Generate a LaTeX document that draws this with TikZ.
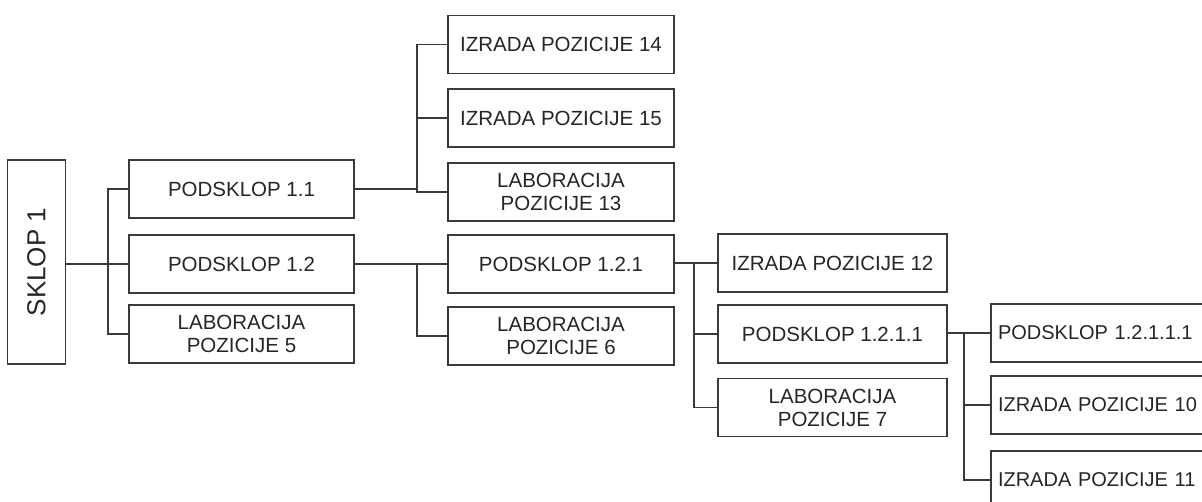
\documentclass[tikz,border=0pt]{standalone}
\usepackage{fontspec}
\setmainfont{Liberation Sans}
\definecolor{ln}{HTML}{3A3A3A}
\definecolor{tx}{HTML}{262626}
\tikzset{
  box/.style={draw=ln, line width=1.5pt, fill=white, rectangle, inner sep=0pt,
    minimum height=58pt, align=center, text=tx,
    font=\fontsize{20.5}{23}\selectfont},
  c1/.style={box, minimum width=225pt},
  c2/.style={box, minimum width=226pt},
  c3/.style={box, minimum width=229pt},
  c4/.style={box, minimum width=229pt, inner xsep=7pt, text width=215pt, align=left,
    font=\fontsize{20}{23}\selectfont},
  conn/.style={draw=ln, line width=1.5pt},
}
\begin{document}
\begin{tikzpicture}[x=1pt, y=-1pt]
\useasboundingbox (0,0) rectangle (1202,501);
\fill[white] (0,0) rectangle (1202,501);
\begin{scope}
\clip (0,0) rectangle (1202,501);
% buses
\coordinate (b1) at (108,0);
\coordinate (b2) at (417,0);
\coordinate (b3) at (417,0);
\coordinate (b4) at (694,0);
\coordinate (b5) at (964,0);
% nodes
\node[box, minimum width=204pt, minimum height=58pt, rotate=90, font=\fontsize{26}{30}\selectfont] (sklop) at (36.5,262) {SKLOP 1};
\node[c1] (p11)  at (241.5,189) {PODSKLOP 1.1};
\node[c1] (p12)  at (241.5,264) {PODSKLOP 1.2};
\node[c1] (lab5) at (241.5,334) {LABORACIJA\\POZICIJE 5};
\node[c2] (iz14) at (561,44.5) {IZRADA POZICIJE 14};
\node[c2] (iz15) at (561,118) {IZRADA POZICIJE 15};
\node[c2] (lab13) at (561,192) {LABORACIJA\\POZICIJE 13};
\node[c2] (p121) at (561,264) {PODSKLOP 1.2.1};
\node[c2] (lab6) at (561,336) {LABORACIJA\\POZICIJE 6};
\node[c3] (iz12) at (832.5,263) {IZRADA POZICIJE 12};
\node[c3] (p1211) at (832.5,334) {PODSKLOP 1.2.1.1};
\node[c3] (lab7) at (832.5,407.5) {LABORACIJA\\POZICIJE 7};
\node[c4] (p12111) at (1105.5,333) {PODSKLOP 1.2.1.1.1};
\node[c4] (iz10) at (1105.5,405) {IZRADA POZICIJE 10};
\node[c4] (iz11) at (1105.5,480) {IZRADA POZICIJE 11};
% connectors level 1
\draw[conn] (sklop.south |- p12.west) -- (p12.west);
\draw[conn] (p11.west) -- (p11.west -| b1) -- (lab5.west -| b1) -- (lab5.west);
% podsklop 1.1
\draw[conn] (p11.east) -- (p11.east -| b2);
\draw[conn] (iz14.west) -- (iz14.west -| b2) -- (lab13.west -| b2) -- (lab13.west);
\draw[conn] (iz15.west -| b2) -- (iz15.west);
% podsklop 1.2
\draw[conn] (p12.east) -- (p121.west);
\draw[conn] (p121.west -| b3) -- (lab6.west -| b3) -- (lab6.west);
% podsklop 1.2.1
\draw[conn] (p121.east |- iz12.west) -- (iz12.west);
\draw[conn] (iz12.west -| b4) -- (lab7.west -| b4) -- (lab7.west);
\draw[conn] (p1211.west -| b4) -- (p1211.west);
% podsklop 1.2.1.1
\draw[conn] (p1211.east |- p12111.west) -- (p12111.west);
\draw[conn] (p12111.west -| b5) -- (iz11.west -| b5) -- (iz11.west);
\draw[conn] (iz10.west -| b5) -- (iz10.west);
\end{scope}
\end{tikzpicture}
\end{document}
